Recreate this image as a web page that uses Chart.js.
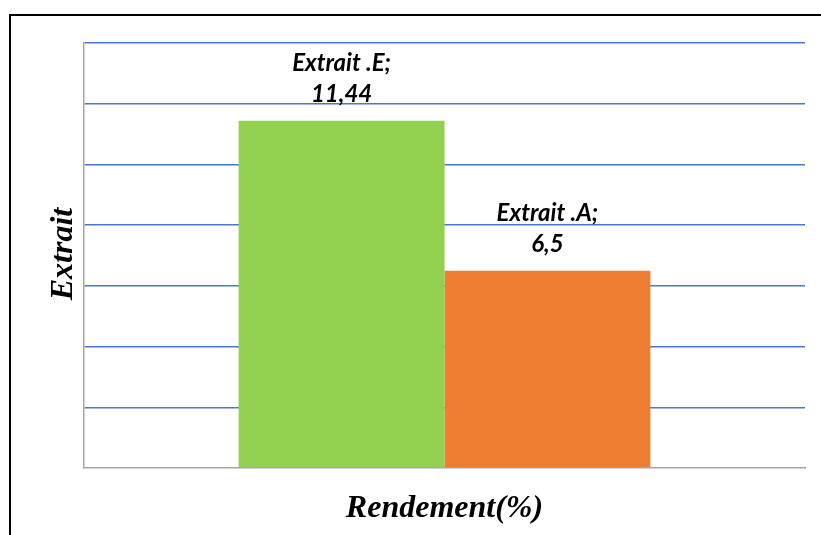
<!DOCTYPE html>
<html>
<head>
<meta charset="utf-8">
<script src="https://cdn.jsdelivr.net/npm/chart.js@4"></script>
<style>
  html, body { margin: 0; padding: 0; background: #fff; overflow: hidden; }
  #wrap { position: relative; width: 821px; height: 535px; }
  #frame { position: absolute; left: 9px; top: 14px; width: 900px; height: 600px; border: 2.5px solid #000; box-sizing: border-box; }
  canvas { position: absolute; left: 0; top: 0; }
</style>
</head>
<body>
<div id="wrap">
  <div id="frame"></div>
  <canvas id="chart" width="821" height="535"></canvas>
</div>
<script>
// Rendement des extraits
var categories = ['Rendement(%)'];
var seriesNames = ['Extrait .E', 'Extrait .A'];
var seriesValues = [11.44, 6.5];
var valueLabels = ['11,44', '6,5'];
var seriesColors = ['#92D050', '#ED7D31'];
var yTicks = [0, 2, 4, 6, 8, 10, 12, 14];

(function(){
  var labelFont = 'italic bold 24px Lato, "Open Sans", sans-serif';
  var titleFont = 'italic bold 32px "Liberation Serif", "DejaVu Serif", serif';

  // etiquettes de donnees en deux lignes au-dessus des barres
  var barLabels = {
    id: 'barLabels',
    afterDatasetsDraw: function(chart){
      var ctx = chart.ctx;
      ctx.save();
      ctx.font = labelFont;
      ctx.fillStyle = '#000';
      ctx.textAlign = 'center';
      ctx.textBaseline = 'alphabetic';
      chart.data.datasets.forEach(function(ds, i){
        var bar = chart.getDatasetMeta(i).data[0];
        if (!bar) return;
        ctx.fillText(seriesNames[i] + ';', bar.x, bar.y - 50);
        ctx.fillText(valueLabels[i], bar.x, bar.y - 19);
      });
      ctx.restore();
    }
  };

  // titres des axes
  var axisTitles = {
    id: 'axisTitles',
    afterDraw: function(chart){
      var ctx = chart.ctx;
      var area = chart.chartArea;
      ctx.save();
      ctx.font = titleFont;
      ctx.fillStyle = '#000';
      ctx.textAlign = 'center';
      ctx.textBaseline = 'alphabetic';
      ctx.fillText(categories[0], (area.left + area.right) / 2, 517);
      ctx.translate(72, 254);
      ctx.rotate(-Math.PI / 2);
      ctx.fillText('Extrait', 0, 0);
      ctx.restore();
    }
  };

  var datasets = seriesNames.map(function(name, i){
    return {
      label: name,
      data: [seriesValues[i]],
      backgroundColor: seriesColors[i],
      borderWidth: 0,
      barPercentage: 1,
      categoryPercentage: 0.571
    };
  });

  new Chart(document.getElementById('chart').getContext('2d'), {
    type: 'bar',
    data: { labels: categories, datasets: datasets },
    options: {
      responsive: false,
      animation: false,
      layout: { padding: { left: 84, right: 16, top: 43, bottom: 67 } },
      plugins: { legend: { display: false }, tooltip: { enabled: false } },
      scales: {
        x: {
          ticks: { display: false },
          grid: { display: false, drawTicks: false },
          border: { display: true, color: '#A6A6A6', width: 1.5 }
        },
        y: {
          min: yTicks[0],
          max: yTicks[yTicks.length - 1],
          afterBuildTicks: function(axis){
            axis.ticks = yTicks.map(function(v){ return { value: v }; });
          },
          ticks: { display: false },
          grid: {
            drawTicks: false,
            lineWidth: 1.5,
            color: function(c){ return c.tick && c.tick.value === 0 ? 'rgba(0,0,0,0)' : '#4A78C8'; }
          },
          border: { display: true, color: '#A6A6A6', width: 1.5 }
        }
      }
    },
    plugins: [barLabels, axisTitles]
  });
})();
</script>
</body>
</html>
